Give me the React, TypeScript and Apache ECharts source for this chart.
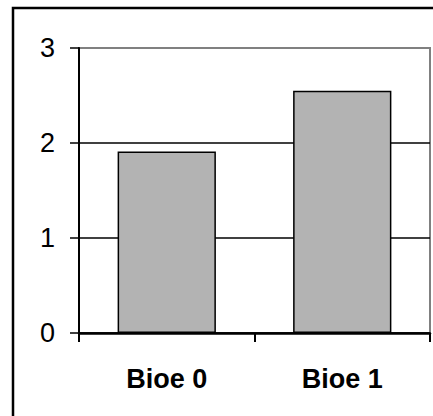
import React, { useEffect, useRef } from "react";
import * as echarts from "echarts";

const categories = ["Bioe 0", "Bioe 1"];
const values = [1.91, 2.55];
const yTicks = [0, 1, 2, 3];

export default function App() {
  const ref = useRef<HTMLDivElement>(null);
  useEffect(() => {
    if (!ref.current) return;
    const chart = echarts.init(ref.current, null, { renderer: "svg" });
    chart.setOption({
      animation: false,
      backgroundColor: "#ffffff",
      textStyle: { fontFamily: "Liberation Sans, Arial, sans-serif" },
      graphic: [
        {
          type: "rect",
          shape: { x: 13, y: 8, width: 600, height: 600 },
          style: { fill: "none", stroke: "#000", lineWidth: 2.5 },
          silent: true,
          z: 100,
        },
      ],
      grid: {
        left: 79,
        right: 3,
        top: 48,
        bottom: 83,
        show: true,
        borderColor: "#808080",
        borderWidth: 2,
        backgroundColor: "transparent",
      },
      xAxis: {
        type: "category",
        data: categories,
        boundaryGap: true,
        axisLine: { show: true, lineStyle: { color: "#000", width: 2.5 } },
        axisTick: { show: true, length: 9, lineStyle: { color: "#000", width: 2 } },
        axisLabel: {
          color: "#000",
          fontSize: 27,
          fontWeight: "bold",
          fontFamily: "Liberation Sans, Arial, sans-serif",
          margin: 32,
        },
        z: 10,
      },
      yAxis: {
        type: "value",
        min: yTicks[0],
        max: yTicks[yTicks.length - 1],
        interval: 1,
        axisLine: { show: true, lineStyle: { color: "#000", width: 2 } },
        axisTick: { show: true, length: 9, lineStyle: { color: "#000", width: 1.5 } },
        axisLabel: {
          color: "#000",
          fontSize: 27,
          fontFamily: "Liberation Sans, Arial, sans-serif",
          margin: 24,
        },
        splitLine: {
          show: true,
          lineStyle: { color: ["#000", "#000", "#000", "#808080"], width: 1.5 },
        },
      },
      series: [
        {
          type: "bar",
          data: values,
          barWidth: "56%",
          itemStyle: { color: "#b3b3b3", borderColor: "#000", borderWidth: 1.5 },
        },
      ],
    });
    return () => chart.dispose();
  }, []);
  return (
    <div
      ref={ref}
      style={{ position: "fixed", left: 0, top: 0, width: 433, height: 416 }}
    />
  );
}
